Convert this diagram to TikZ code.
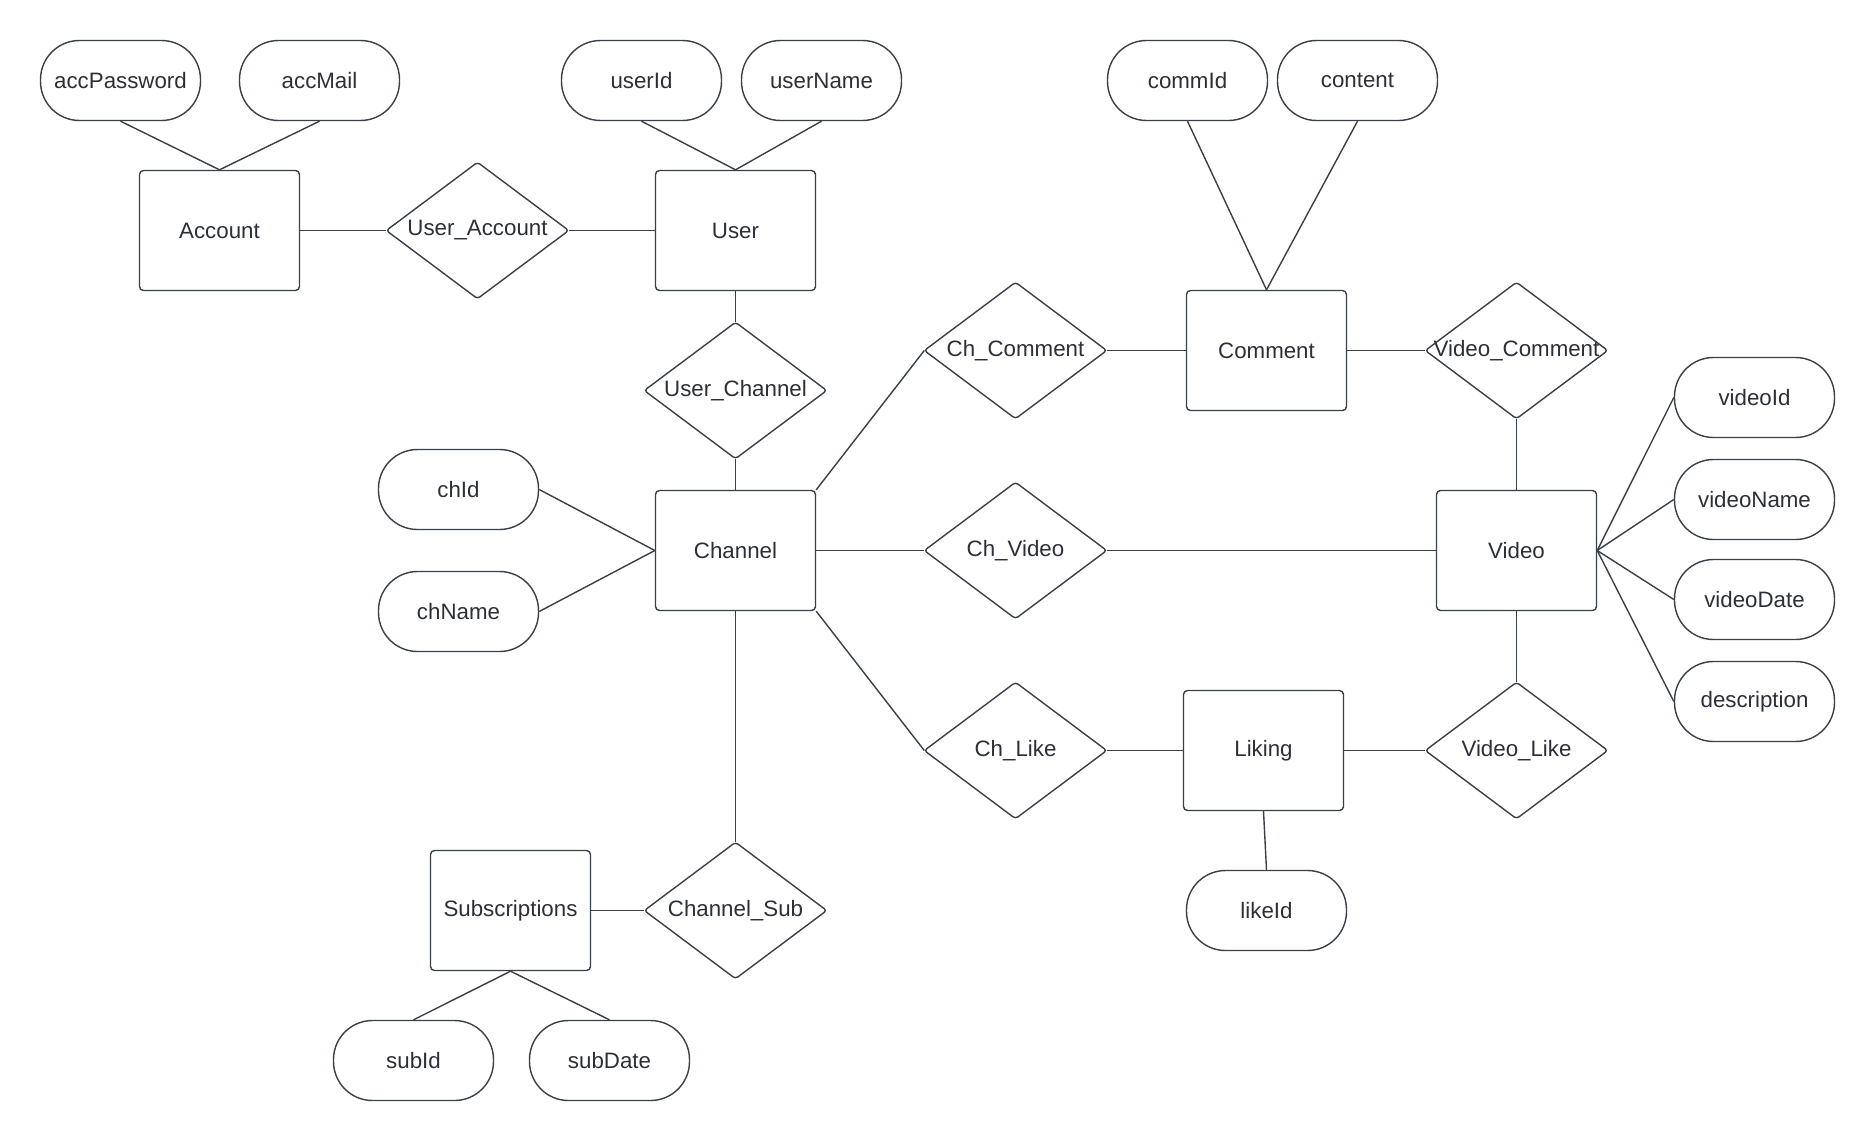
\documentclass[tikz,border=0pt]{standalone}
\usepackage{fontspec}
\setmainfont{Liberation Sans}
\definecolor{ln}{HTML}{3A4048}
\definecolor{tx}{HTML}{2B3038}
\begin{document}
\begin{tikzpicture}[x=1pt,y=-1pt,
  every node/.style={font=\fontsize{22.3}{26}\selectfont, text=tx},
  ent/.style={draw=ln, line width=1.4pt, rounded corners=4pt, minimum width=160pt, minimum height=120pt, inner sep=0pt},
  rel/.style={inner sep=0pt, minimum width=182pt, minimum height=136pt},
  attr/.style={draw=ln, line width=1.4pt, rounded corners=39pt, minimum width=160pt, minimum height=80pt, inner sep=0pt},
  conn/.style={draw=ln, line width=1.4pt},
  dia/.style={draw=ln, line width=1.4pt, rounded corners=3pt}]
\useasboundingbox (0,0) rectangle (1876,1140);
\fill[white] (0,0) rectangle (1876,1140);
\begin{scope}[shift={(0.5,1.5)}]
% entities
\node[ent] (account) at (219,229) {Account};
\node[ent] (user) at (735,229) {User};
\node[ent] (channel) at (735,549) {Channel};
\node[ent] (comment) at (1266,349) {Comment};
\node[ent] (video) at (1516,549) {Video};
\node[ent] (liking) at (1263,749) {Liking};
\node[ent] (subs) at (510,909) {Subscriptions};
% relationships
\node[rel] (ua) at (477,229) {User\_Account};
\node[rel] (uc) at (735,389) {User\_Channel};
\node[rel] (cc) at (1015,349) {Ch\_Comment};
\node[rel] (vc) at (1516,349) {Video\_Comment};
\node[rel] (cv) at (1015,549) {Ch\_Video};
\node[rel] (cl) at (1015,749) {Ch\_Like};
\node[rel] (vl) at (1516,749) {Video\_Like};
\node[rel] (cs) at (735,909) {Channel\_Sub};
\foreach \r in {ua,uc,cc,vc,cv,cl,vl,cs}
  \draw[dia] (\r.west) -- (\r.north) -- (\r.east) -- (\r.south) -- cycle;
% attributes
\node[attr] (accpw) at (120,79) {accPassword};
\node[attr] (accmail) at (319,79) {accMail};
\node[attr] (userid) at (641,79) {userId};
\node[attr] (username) at (821,79) {userName};
\node[attr] (commid) at (1187,79) {commId};
\node[attr] (content) at (1357,79) {content};
\node[attr] (videoid) at (1754,396) {videoId};
\node[attr] (videoname) at (1754,498) {videoName};
\node[attr] (videodate) at (1754,598) {videoDate};
\node[attr] (descr) at (1754,700) {description};
\node[attr] (chid) at (458,488) {chId};
\node[attr] (chname) at (458,610) {chName};
\node[attr] (likeid) at (1266,909) {likeId};
\node[attr] (subid) at (413,1059) {subId};
\node[attr] (subdate) at (609,1059) {subDate};
% connectors
\draw[conn] (accpw.south) -- (account.north);
\draw[conn] (accmail.south) -- (account.north);
\draw[conn] (userid.south) -- (user.north);
\draw[conn] (username.south) -- (user.north);
\draw[conn] (commid.south) -- (comment.north);
\draw[conn] (content.south) -- (comment.north);
\draw[conn] (account.east) -- (ua.west);
\draw[conn] (ua.east) -- (user.west);
\draw[conn] (user.south) -- (uc.north);
\draw[conn] (uc.south) -- (channel.north);
\draw[conn] (chid.east) -- (channel.west);
\draw[conn] (chname.east) -- (channel.west);
\draw[conn] (channel.north east) -- (cc.west);
\draw[conn] (cc.east) -- (comment.west);
\draw[conn] (comment.east) -- (vc.west);
\draw[conn] (vc.south) -- (video.north);
\draw[conn] (channel.east) -- (cv.west);
\draw[conn] (cv.east) -- (video.west);
\draw[conn] (channel.south east) -- (cl.west);
\draw[conn] (cl.east) -- (liking.west);
\draw[conn] (liking.east) -- (vl.west);
\draw[conn] (vl.north) -- (video.south);
\draw[conn] (video.east) -- (videoid.west);
\draw[conn] (video.east) -- (videoname.west);
\draw[conn] (video.east) -- (videodate.west);
\draw[conn] (video.east) -- (descr.west);
\draw[conn] (liking.south) -- (likeid.north);
\draw[conn] (channel.south) -- (cs.north);
\draw[conn] (cs.west) -- (subs.east);
\draw[conn] (subs.south) -- (subid.north);
\draw[conn] (subs.south) -- (subdate.north);
\end{scope}
\end{tikzpicture}
\end{document}
